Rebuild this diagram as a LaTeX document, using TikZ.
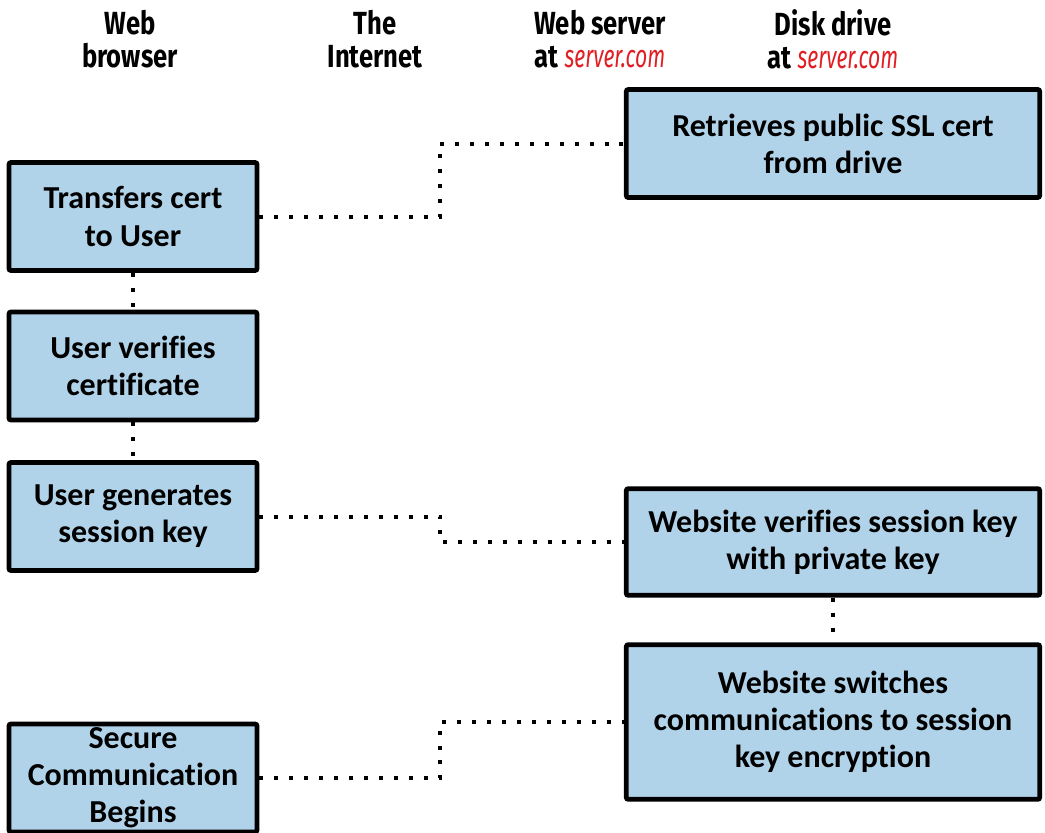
\documentclass[tikz,border=0pt]{standalone}
\usepackage{fontspec}
\usepackage{xcolor}
\setmainfont[Ligatures=NoCommon]{Carlito}
\newfontfamily\headfont[FakeStretch=0.8]{Fira Sans}
\newfontfamily\sitefont[FakeStretch=0.66]{Fira Sans}
\usetikzlibrary{positioning,calc}
\definecolor{boxblue}{RGB}{177,211,233}
\definecolor{siteRed}{RGB}{225,30,35}
\newcommand{\siteurl}{{\sitefont\itshape\mdseries\color{siteRed}server.com}}

\begin{document}
\begin{tikzpicture}[
  x=0.75pt, y=-0.75pt,
  act/.style={draw=black, fill=boxblue, line width=3.6pt, rounded corners=1.5pt,
    font=\bfseries\fontsize{24}{27.8}\selectfont, align=center, inner sep=0pt},
  hdr/.style={font=\headfont\bfseries\fontsize{24}{25}\selectfont, align=center},
  link/.style={line width=3pt, dash pattern=on 3pt off 8.2pt},
]
  \useasboundingbox (0,0) rectangle (1045,832);

  % Column headings
  \node[hdr] (hbrowser) at (130,39) {Web\\browser};
  \node[hdr] (hnet) at (375,39) {The\\Internet};
  \node[hdr] (hserver) at (600,39) {Web server\\at \siteurl};
  \node[hdr] (hdisk) at (833,39) {Disk drive\\at \siteurl};

  % Browser side
  \node[act, minimum width=186pt, minimum height=81pt] (xfer) at (133,216.5)
    {Transfers cert\\to User};
  \node[act, minimum width=186pt, minimum height=81pt] (check) at (133,366)
    {User verifies\\certificate};
  \node[act, minimum width=186pt, minimum height=81pt] (gen) at (133,516.5)
    {User generates\\session key};
  \node[act, minimum width=186pt, minimum height=81pt] (secure) at (133,778)
    {Secure\\Communication\\Begins};

  % Server side
  \node[act, minimum width=310pt, minimum height=81pt] (fetch) at (833,143.5)
    {Retrieves public SSL cert\\from drive};
  \node[act, minimum width=310pt, minimum height=80pt] (vrfy) at (833,542)
    {Website verifies session key\\with private key};
  \node[act, minimum width=310pt, minimum height=116pt] (switch) at (833,722)
    {Website switches\\communications to session\\key encryption};

  % Dotted links
  \coordinate (bend) at (440,0);
  \draw[link] (xfer.east) -- (xfer.east -| bend) |- (fetch.west);
  \draw[link] (gen.east) -- (gen.east -| bend) |- (vrfy.west);
  \draw[link] (secure.east) -- (secure.east -| bend) |- (switch.west);
  \draw[link] (xfer.south) -- (check.north);
  \draw[link] (check.south) -- (gen.north);
  \draw[link] (vrfy.south) -- (switch.north);
\end{tikzpicture}
\end{document}
